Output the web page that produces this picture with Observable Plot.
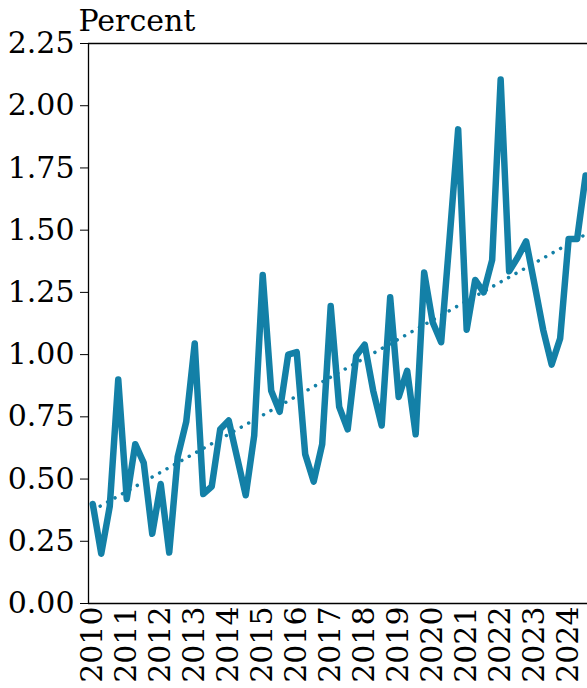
<!DOCTYPE html>
<html><head><meta charset="utf-8">
<script src="https://cdn.jsdelivr.net/npm/d3@7"></script>
<script src="https://cdn.jsdelivr.net/npm/@observablehq/plot@0.6"></script>
<style>body{margin:0;background:#fff}</style>
</head><body><div id="chart"></div>
<script>
// Quarterly series, 2010 Q1 – 2024 Q3
const startYear = 2010;
const values = [
  0.40, 0.20, 0.39, 0.90,
  0.42, 0.64, 0.565, 0.28,
  0.48, 0.205, 0.59, 0.73,
  1.045, 0.44, 0.47, 0.70,
  0.735, 0.585, 0.435, 0.675,
  1.32, 0.855, 0.77, 1.00,
  1.01, 0.60, 0.49, 0.64,
  1.195, 0.79, 0.70, 0.995,
  1.04, 0.855, 0.715, 1.23,
  0.83, 0.935, 0.68, 1.33,
  1.13, 1.05, 1.47, 1.905,
  1.10, 1.30, 1.25, 1.38,
  2.105, 1.335, 1.39, 1.455,
  1.28, 1.10, 0.96, 1.065,
  1.465, 1.465, 1.72
];
const yTicks = [0, 0.25, 0.5, 0.75, 1.0, 1.25, 1.5, 1.75, 2.0, 2.25];
const xTicks = [2010, 2011, 2012, 2013, 2014, 2015, 2016, 2017, 2018, 2019, 2020, 2021, 2022, 2023, 2024];
const yLabel = "Percent";

const data = values.map((v, i) => ({
  t: startYear + Math.floor(i / 4) + ((i % 4) + 0.5) / 4,
  v
}));
const color = "#1380a7";

const chart = Plot.plot({
  width: 587,
  height: 688,
  marginTop: 43,
  marginLeft: 88,
  marginRight: 0,
  marginBottom: 85,
  style: {fontFamily: "DejaVu Serif", fontSize: "30px", color: "#000", background: "#fff", overflow: "visible"},
  x: {domain: [2010, 2024.68]},
  y: {domain: [0, 2.25]},
  marks: [
    Plot.axisX({ticks: xTicks, tickFormat: d3.format("d"), tickRotate: -90, tickSize: 0, tickPadding: 3, dx: 4, label: null}),
    Plot.axisY({ticks: yTicks, tickFormat: d3.format(".2f"), tickSize: 8, tickPadding: 6, label: null}),
    Plot.ruleY([0, 2.25], {stroke: "#000", strokeWidth: 1.3}),
    Plot.ruleX([2010], {stroke: "#000", strokeWidth: 1.3}),
    Plot.linearRegressionY(data, {x: "t", y: "v", ci: 0, stroke: color, strokeWidth: 3.5, strokeDasharray: "0.01 8.5", strokeLinecap: "round"}),
    Plot.line(data, {x: "t", y: "v", stroke: color, strokeWidth: 6.5, strokeLinejoin: "round", strokeLinecap: "round"}),
    Plot.text([yLabel], {text: d => d, frameAnchor: "top-left", dx: -10, dy: -22.6, textAnchor: "start", lineAnchor: "middle", fontSize: 30, fill: "#000"})
  ]
});
document.getElementById("chart").append(chart);
</script>
</body></html>
